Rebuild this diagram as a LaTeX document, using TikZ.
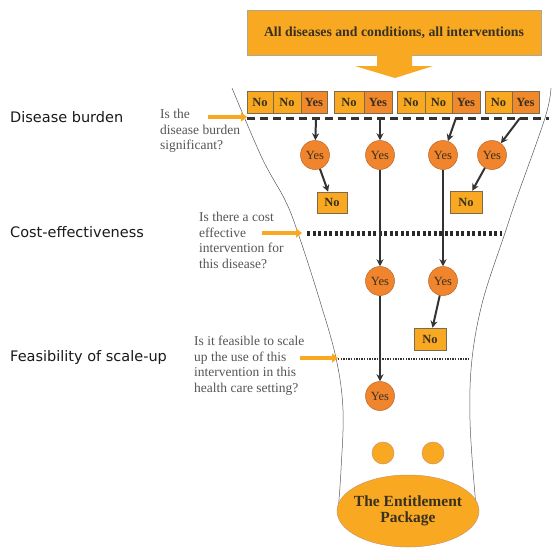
\documentclass[tikz,border=0pt]{standalone}
\usepackage{fontspec}
\setmainfont{Liberation Serif}
\newfontfamily\labelfont{DejaVu Sans}
\usetikzlibrary{arrows.meta,shapes.geometric}
\definecolor{boxlight}{HTML}{F8A921}
\definecolor{boxdark}{HTML}{F0882C}
\definecolor{circfill}{HTML}{F0852D}
\definecolor{circline}{HTML}{B8642A}
\definecolor{edgegray}{HTML}{7A6A50}
\definecolor{arrowgray}{HTML}{333333}
\definecolor{qgray}{HTML}{555555}
\definecolor{txtdark}{HTML}{3A3020}
\tikzset{
  nobox/.style={draw=edgegray,line width=0.5pt,fill=boxlight,minimum height=22pt,inner sep=0pt,
    font=\fontsize{12.5}{13}\selectfont\bfseries,text=txtdark},
  yesbox/.style={nobox,fill=boxdark},
  yescirc/.style={circle,draw=circline,line width=0.5pt,fill=circfill,minimum size=29pt,inner sep=0pt,
    font=\fontsize{12.5}{13}\selectfont,text=txtdark},
  flow/.style={draw=arrowgray,line width=2pt,-{Stealth[length=7pt,width=7pt]}},
  sidelabel/.style={anchor=west,font=\labelfont\fontsize{14.5}{16}\selectfont,text=black!90,inner sep=0pt},
  question/.style={anchor=west,align=left,font=\fontsize{13.5}{15.5}\selectfont,text=qgray,inner sep=0pt},
  qarrow/.style={draw=boxlight,line width=3.5pt,-{Triangle[length=6pt,width=9pt]}},
  funnel/.style={draw=gray!70!black,line width=0.5pt},
}
\begin{document}
\begin{tikzpicture}[x=1pt,y=-1pt]
\useasboundingbox (0,0) rectangle (552,547);
% funnel
\draw[funnel] plot[smooth,tension=0.6] coordinates {(232,88) (262,158) (285,200) (298,233) (319,298) (336,358) (343,410) (341,470) (338,512)};
\draw[funnel] plot[smooth,tension=0.6] coordinates {(551,88) (545,118) (516,200) (505,233) (483,300) (472,359) (470,420) (475,495) (477,505)};
% top box and arrow
\node[draw=edgegray!60,line width=0.4pt,fill=boxlight,minimum width=294pt,minimum height=45pt,inner sep=0pt,
  font=\fontsize{13.8}{15}\selectfont\bfseries,text=txtdark] (top) at (394,32.5) {All diseases and conditions, all interventions};
\fill[boxlight] (377,55) -- (412,55) -- (412,66) -- (433,66) -- (395,78) -- (355,66) -- (377,66) -- cycle;
% boxes row
\node[nobox,minimum width=26pt] (b1) at (260,102) {No};
\node[nobox,minimum width=28pt] (b2) at (287,102) {No};
\node[yesbox,minimum width=26pt] (b3) at (314,102) {Yes};
\node[nobox,minimum width=30pt] (b4) at (349,102) {No};
\node[yesbox,minimum width=28pt] (b5) at (378,102) {Yes};
\node[nobox,minimum width=28pt] (b6) at (411,102) {No};
\node[nobox,minimum width=27pt] (b7) at (438.5,102) {No};
\node[yesbox,minimum width=28pt] (b8) at (466,102) {Yes};
\node[nobox,minimum width=27pt] (b9) at (498.5,102) {No};
\node[yesbox,minimum width=27pt] (b10) at (525.5,102) {Yes};
% dashed lines
\coordinate (d1s) at (247,118); \coordinate (d1e) at (549,118);
\draw[arrowgray,line width=3pt,dash pattern=on 8pt off 5pt] (d1s) -- (d1e);
\coordinate (d2s) at (307,233); \coordinate (d2e) at (502,233);
\draw[arrowgray!80!black,line width=5pt,dash pattern=on 3pt off 2.5pt] (d2s) -- (d2e);
\coordinate (d3s) at (338,359); \coordinate (d3e) at (470,359);
\draw[arrowgray,line width=2.5pt,dash pattern=on 1.4pt off 1.2pt] (d3s) -- (d3e);
% circles
\node[yescirc] (c1) at (315,155) {Yes};
\node[yescirc] (c2) at (380,155) {Yes};
\node[yescirc] (c3) at (443,155) {Yes};
\node[yescirc] (c4) at (492,155) {Yes};
\node[nobox,minimum width=30pt,minimum height=21pt] (n1) at (332,202.5) {No};
\node[nobox,minimum width=32pt] (n4) at (466,202) {No};
\node[yescirc] (c5) at (380,281) {Yes};
\node[yescirc] (c6) at (443,281) {Yes};
\node[nobox,minimum width=32pt] (n6) at (430,339) {No};
\node[yescirc] (c7) at (380,396) {Yes};
% arrow start points on dashed line
\coordinate (a1) at (316,118);
\coordinate (a2) at (380,118);
\coordinate (a3) at (456,118);
\coordinate (a4) at (520,118);
\draw[flow] (a1) -- (c1);
\draw[flow] (a2) -- (c2);
\draw[flow] (a3) -- (c3);
\draw[flow] (a4) -- (c4);
\draw[flow] (c1) -- (n1);
\draw[flow] (c4) -- (n4);
\draw[flow] (c2) -- (c5);
\draw[flow] (c3) -- (c6);
\draw[flow] (c6) -- (n6);
\draw[flow] (c5) -- (c7);
% bottom
\node[circle,draw=circline!70,line width=0.5pt,fill=boxlight,minimum size=22pt,inner sep=0pt] (s1) at (383,453) {};
\node[circle,draw=circline!70,line width=0.5pt,fill=boxlight,minimum size=22pt,inner sep=0pt] (s2) at (433,453) {};
\node[ellipse,draw=circline!70,line width=0.5pt,fill=boxlight,minimum width=142pt,minimum height=72pt,inner sep=-7pt,
  align=center,font=\fontsize{15.5}{16}\selectfont\bfseries,text=txtdark] (pkg) at (408,511) {The Entitlement\\Package};
% side labels
\node[sidelabel] (l1) at (10,117) {Disease burden};
\node[sidelabel] (l2) at (10,232) {Cost-effectiveness};
\node[sidelabel] (l3) at (10,357) {Feasibility of scale-up};
% questions
\node[question] (q1) at (160,131) {Is the\\disease burden\\significant?};
\node[question] (q2) at (199,240.5) {Is there a cost\\effective\\intervention for\\this disease?};
\node[question] (q3) at (194,365.5) {Is it feasible to scale\\up the use of this\\intervention in this\\health care setting?};
\coordinate (qa1s) at (208,117); \coordinate (qa1e) at (247,117);
\coordinate (qa2s) at (262,233); \coordinate (qa2e) at (302,233);
\coordinate (qa3s) at (300,358); \coordinate (qa3e) at (338,358);
\draw[qarrow] (qa1s) -- (qa1e);
\draw[qarrow] (qa2s) -- (qa2e);
\draw[qarrow] (qa3s) -- (qa3e);
\end{tikzpicture}
\end{document}
